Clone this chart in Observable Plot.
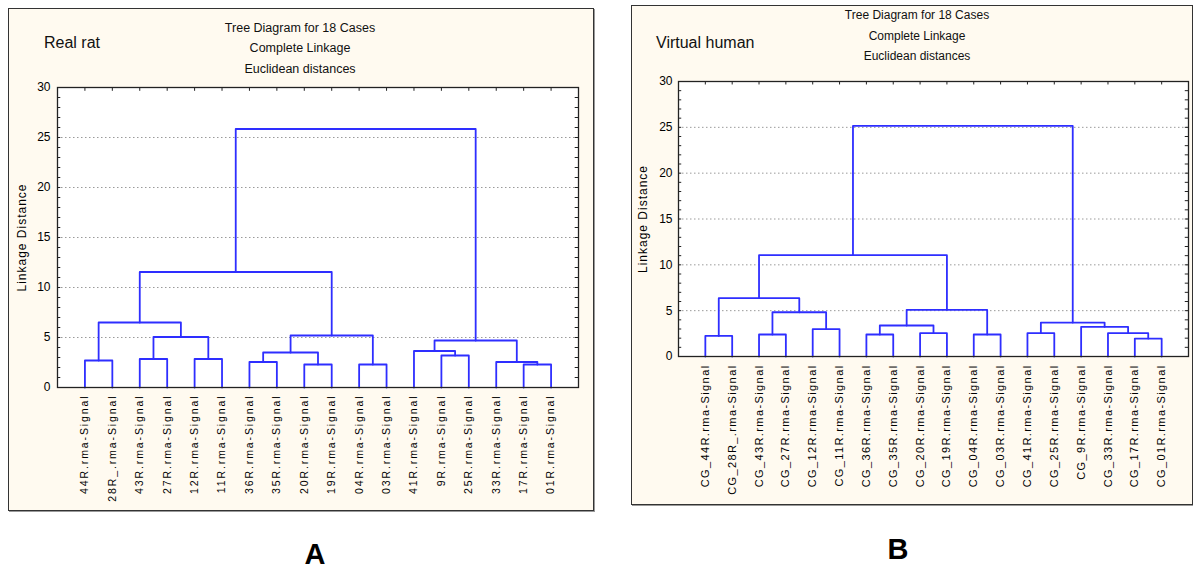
<!DOCTYPE html>
<html><head><meta charset="utf-8">
<script src="https://cdn.jsdelivr.net/npm/d3@7"></script>
<script src="https://cdn.jsdelivr.net/npm/@observablehq/plot@0.6"></script>
<style>
body{margin:0;background:#fff;font-family:Arial,"Liberation Sans",sans-serif;}
#wrap{position:relative;width:1193px;height:569px;overflow:hidden;}
.panel{position:absolute;box-sizing:border-box;background:#fffaf0;border:1px solid #333;box-shadow:1px 1px 0 #999;}
.t{position:absolute;white-space:nowrap;color:#111;transform:translate(-50%,-50%);line-height:1;}
.lab{position:absolute;white-space:nowrap;color:#111;transform:translate(0,-50%);font-size:16px;line-height:1;}
.big{position:absolute;font-weight:bold;font-size:29px;line-height:1;color:#000;transform:translate(-50%,-50%);}
.svgbox{position:absolute;}
</style></head>
<body><div id="wrap">
<div class="panel" style="left:8px;top:8px;width:586px;height:503px"></div>
<div class="panel" style="left:631px;top:5px;width:562px;height:500px"></div>
<div id="left" class="svgbox" style="left:0;top:0"></div>
<div id="right" class="svgbox" style="left:631px;top:0"></div>
<div class="lab" style="left:44px;top:43px">Real rat</div>
<div class="t" style="left:300px;top:28px;font-size:12.5px">Tree Diagram for 18 Cases</div>
<div class="t" style="left:300px;top:48px;font-size:12.5px">Complete Linkage</div>
<div class="t" style="left:300px;top:69px;font-size:12.5px">Euclidean distances</div>
<div class="lab" style="left:656px;top:43px">Virtual human</div>
<div class="t" style="left:917px;top:15px;font-size:12px">Tree Diagram for 18 Cases</div>
<div class="t" style="left:917px;top:36px;font-size:12px">Complete Linkage</div>
<div class="t" style="left:917px;top:56px;font-size:12px">Euclidean distances</div>
<div class="big" style="left:315px;top:554px">A</div>
<div class="big" style="left:898px;top:549px">B</div>
</div>
<script>
// ---- Real rat (A) ----
const ratLeaves = ["44R.rma-Signal","28R_.rma-Signal","43R.rma-Signal","27R.rma-Signal","12R.rma-Signal","11R.rma-Signal","36R.rma-Signal","35R.rma-Signal","20R.rma-Signal","19R.rma-Signal","04R.rma-Signal","03R.rma-Signal","41R.rma-Signal","9R.rma-Signal","25R.rma-Signal","33R.rma-Signal","17R.rma-Signal","01R.rma-Signal"];
// merge i joins ratLeft[i] and ratRight[i] (ids < 18 are leaves, id 18+k is merge k)
const ratLeft   = [0, 2, 4, 19, 18, 6, 8, 23, 10, 25, 22, 13, 12, 16, 15, 30, 28];
const ratRight  = [1, 3, 5, 20, 21, 7, 9, 24, 11, 26, 27, 14, 29, 17, 31, 32, 33];
const ratHeight = [2.7, 2.85, 2.85, 5.05, 6.5, 2.55, 2.3, 3.5, 2.3, 5.2, 11.55, 3.2, 3.65, 2.3, 2.55, 4.7, 25.85];

// ---- Virtual human (B) ----
const humLeaves = ["CG_44R.rma-Signal","CG_28R_.rma-Signal","CG_43R.rma-Signal","CG_27R.rma-Signal","CG_12R.rma-Signal","CG_11R.rma-Signal","CG_36R.rma-Signal","CG_35R.rma-Signal","CG_20R.rma-Signal","CG_19R.rma-Signal","CG_04R.rma-Signal","CG_03R.rma-Signal","CG_41R.rma-Signal","CG_25R.rma-Signal","CG_9R.rma-Signal","CG_33R.rma-Signal","CG_17R.rma-Signal","CG_01R.rma-Signal"];
const humLeft   = [0, 2, 4, 19, 18, 6, 8, 23, 10, 25, 22, 12, 16, 15, 14, 29, 28];
const humRight  = [1, 3, 5, 20, 21, 7, 9, 24, 11, 26, 27, 13, 17, 30, 31, 32, 33];
const humHeight = [2.25, 2.4, 2.98, 4.83, 6.36, 2.4, 2.54, 3.38, 2.4, 5.09, 11.05, 2.54, 1.96, 2.54, 3.24, 3.7, 25.15];

const yLabels = [0, 5, 10, 15, 20, 25, 30];
const yMinor = d3.range(0, 31);

function dendroRows(n, left, right, heights) {
  const pos = d3.range(1, n + 1), hgt = new Array(n).fill(0);
  const rows = [];
  left.forEach((a, i) => {
    const b = right[i], h = heights[i];
    rows.push({id: i, x: pos[a], y: hgt[a]}, {id: i, x: pos[a], y: h},
              {id: i, x: pos[b], y: h}, {id: i, x: pos[b], y: hgt[b]});
    pos.push((pos[a] + pos[b]) / 2); hgt.push(h);
  });
  return rows;
}

function chart(o) {
  const n = o.leaves.length;
  const rows = dendroRows(n, o.left, o.right, o.heights);
  const svg = Plot.plot({
    width: o.width, height: o.height,
    marginLeft: o.ml, marginRight: o.mr, marginTop: o.mt, marginBottom: o.mb,
    style: {background: "transparent", fontFamily: "Arial, 'Liberation Sans', sans-serif", color: "#000"},
    x: {domain: [0, n + 1]},
    y: {domain: [0, 30]},
    marks: [
      Plot.frame({fill: "white"}),
      Plot.gridY([5, 10, 15, 20, 25], {stroke: "#9a9a9a", strokeOpacity: 1, strokeDasharray: "1.5,2.5"}),
      Plot.ruleY(yMinor, {y: d => d, x1: 0, x2: 0.12, stroke: "#222"}),
      Plot.ruleY(yMinor, {y: d => d, x1: n + 1, x2: n + 1 - 0.12, stroke: "#222"}),
      Plot.ruleX(d3.range(1, n + 1), {x: d => d, y1: 30, y2: 29.62, stroke: "#222"}),
      Plot.line(rows, {x: "x", y: "y", z: "id", stroke: "#2e2eff", strokeWidth: 1.8}),
      Plot.frame({stroke: "#222", strokeWidth: 1.3}),
      Plot.axisY({ticks: yLabels, tickSize: 0, tickPadding: o.yPad, fontSize: 12,
                  label: "Linkage Distance", labelAnchor: "center", labelOffset: 40, labelArrow: "none"}),
      Plot.axisX({ticks: d3.range(1, n + 1), tickFormat: i => o.leaves[i - 1], tickRotate: -90,
                  tickSize: 0, tickPadding: o.xPad, fontSize: o.fs, label: null})
    ]
  });
  d3.select(svg).selectAll('g[aria-label="x-axis tick label"] text').style("letter-spacing", o.ls + "px");
  d3.select(svg).selectAll('g[aria-label="y-axis label"] text').style("letter-spacing", "1px").style("font-size", "12px");
  return svg;
}

document.getElementById("left").append(chart({
  leaves: ratLeaves, left: ratLeft, right: ratRight, heights: ratHeight,
  width: 593, height: 515, ml: 57, mr: 15, mt: 87, mb: 128, yPad: 7, xPad: 7, fs: 10.5, ls: 1.9
}));
document.getElementById("right").append(chart({
  leaves: humLeaves, left: humLeft, right: humRight, heights: humHeight,
  width: 562, height: 510, ml: 47, mr: 5, mt: 81, mb: 154, yPad: 6, xPad: 8, fs: 11, ls: 1.4
}));
</script>
</body></html>
